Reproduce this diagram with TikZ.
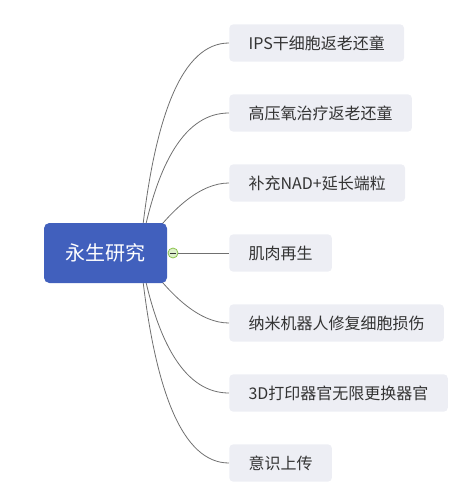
\documentclass[tikz,border=0pt]{standalone}
\usepackage{fontspec}
\setmainfont{Noto Sans CJK SC}
\usetikzlibrary{calc}
\usetikzlibrary{backgrounds}
\definecolor{rootblue}{HTML}{4160BD}
\definecolor{leafgray}{HTML}{EDEEF4}
\definecolor{textgray}{HTML}{333333}
\definecolor{linegray}{HTML}{707070}
\definecolor{foldgreen}{HTML}{8BC34A}
\definecolor{foldfill}{HTML}{DDF0CC}

\begin{document}
\begin{tikzpicture}[x=0.75pt,y=-0.75pt,
  topic/.style={fill=rootblue,rounded corners=4pt,text=white,font=\fontsize{15}{18}\selectfont,minimum width=92.25pt,minimum height=45pt,inner sep=0pt},
  subtopic/.style={fill=leafgray,rounded corners=3pt,text=textgray,font=\fontsize{12}{14}\selectfont,anchor=west,minimum height=28pt,inner xsep=14.5pt,inner ysep=0pt},
  branch/.style={draw=linegray,line width=0.6pt},
  toggle/.style={circle,draw=foldgreen,fill=foldfill,line width=0.6pt,minimum size=7.5pt,inner sep=0pt}]
 	\useasboundingbox (0,0) rectangle (475,497);
 	\node[topic] (root) at (105.5,253) {永生研究};
 	\node[subtopic] (ips) at (229,43) {IPS干细胞返老还童};
 	\node[subtopic] (oxy) at (229,113) {高压氧治疗返老还童};
 	\node[subtopic] (nad) at (229,183) {补充NAD+延长端粒};
 	\node[subtopic] (muscle) at (229,253) {肌肉再生};
 	\node[subtopic] (nano) at (229,323) {纳米机器人修复细胞损伤};
 	\node[subtopic] (organ) at (229,393) {3D打印器官无限更换器官};
 	\node[subtopic] (mind) at (229,463) {意识上传};
 	\node[toggle] (fold) at (173,253) {};
 	\coordinate (hub) at ($(root.center)+(34.5,0)$);
 	\begin{scope}[on background layer]
 	\foreach \leaf/\cx/\cy in {ips/160/43,oxy/165/113,nad/188/183,nano/188/323,organ/165/393,mind/160/463}
 		\draw[branch] (hub) .. controls ($(hub)!2/3!(\cx,\cy)$) and ($(\leaf.west)!2/3!(\cx,\cy)$) .. (\leaf.west);
 	\end{scope}
 	\draw[branch] (fold) -- (muscle);
 	\draw[textgray,line width=0.6pt] ([xshift=-2.5pt]fold.center) -- ([xshift=2.5pt]fold.center);
\end{tikzpicture}
\end{document}
